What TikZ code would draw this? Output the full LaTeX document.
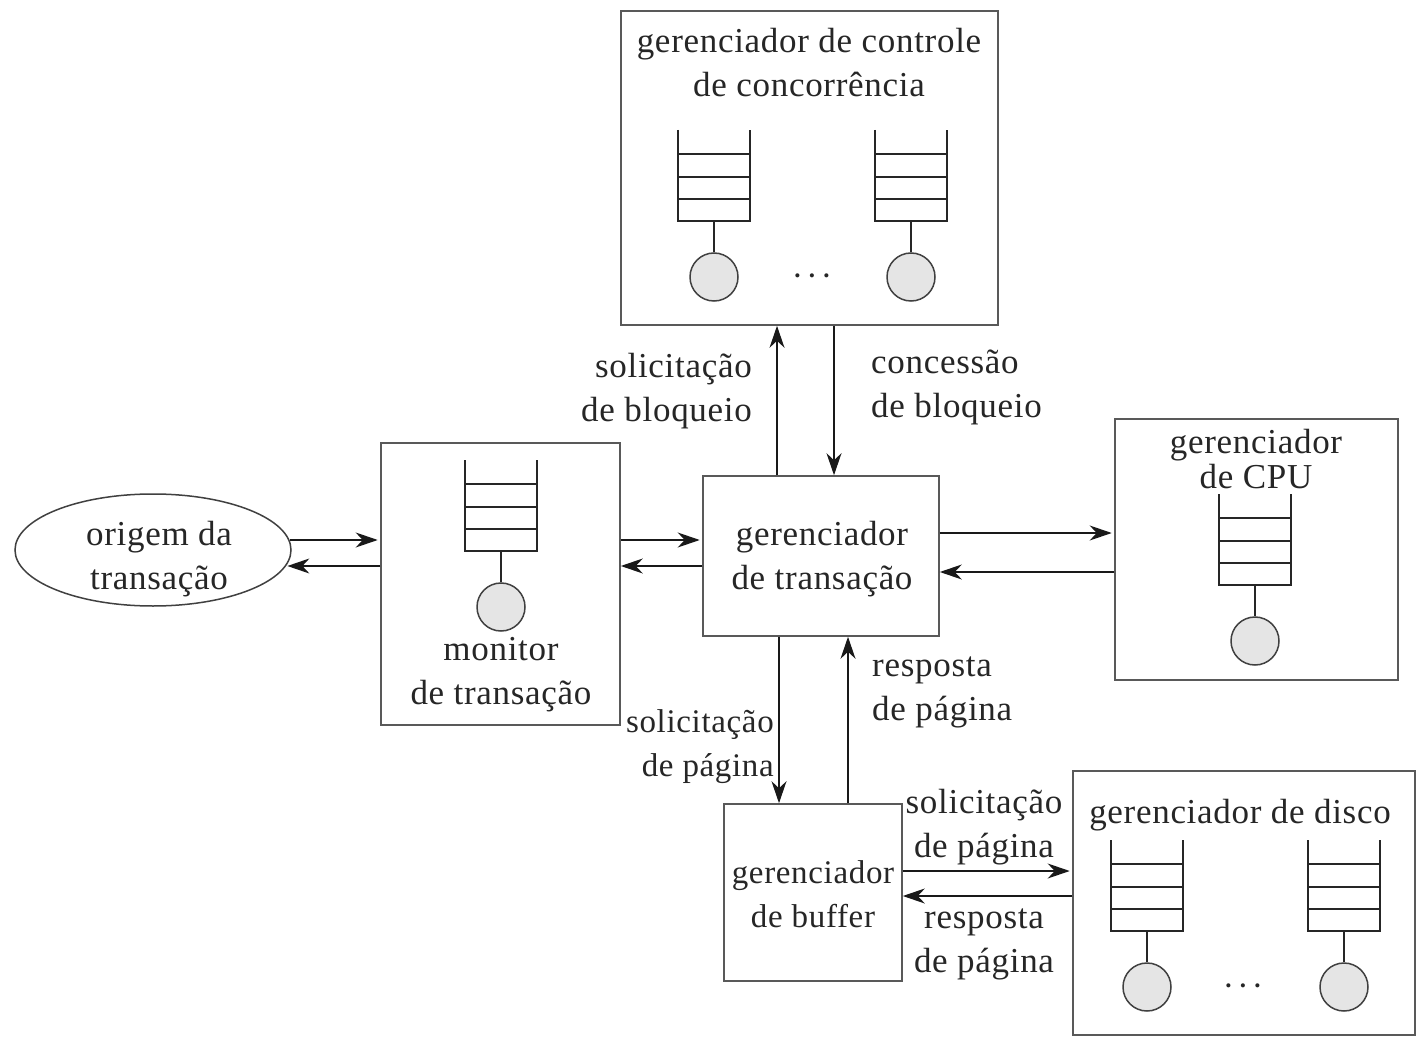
\documentclass[tikz,border=0pt]{standalone}
\usepackage{fontspec}
\setmainfont[LetterSpace=2]{Liberation Serif}
\newfontfamily\dotfont{Liberation Serif}
\usetikzlibrary{arrows.meta,shapes.geometric}
\tikzset{
  x=1pt,y=-1pt,
  box/.style={draw=black!65,line width=1.6pt,fill=white,inner sep=0pt},
  lbl/.style={font=\fontsize{35}{44}\selectfont,align=center,inner sep=0pt,text=black!85},
  lblsm/.style={lbl,font=\fontsize{33}{44}\selectfont},
  lblr/.style={lbl,align=right},
  lbll/.style={lbl,align=left},
  dotsty/.style={font=\dotfont\bfseries\fontsize{25}{30}\selectfont,inner sep=0pt,text=black!85},
  arr/.style={draw=black!90,line width=1.3pt,-{Stealth[length=22pt,width=15pt,inset=7pt]}},
  arrs/.style={arr,shorten >=2.5pt},
  qline/.style={draw=black!85,line width=1.6pt},
  server/.style={circle,draw=black!75,line width=1.5pt,fill=black!10,minimum size=48pt,inner sep=0pt},
  pics/queue/.style={code={
    \draw[qline] (0,0) -- (0,91) -- (72,91) -- (72,0);
    \draw[qline,line width=1.2pt] (0,24) -- (72,24);
    \draw[qline] (0,47) -- (72,47);
    \draw[qline] (0,69) -- (72,69);
    \node[server] (#1s) at (36,147) {};
    \coordinate (#1b) at (36,91);
    \draw[qline] (#1b) -- (#1s);
  }}
}
\begin{document}
\begin{tikzpicture}
\useasboundingbox (0,0) rectangle (1416,1040);
\fill[white] (0,0) rectangle (1416,1040);
% boxes
\node[box,minimum width=377pt,minimum height=314pt] (cc) at (809.5,168) {};
\node[box,minimum width=239pt,minimum height=282pt] (mon) at (500.5,584) {};
\node[box,minimum width=236pt,minimum height=160pt] (tm) at (821,556) {};
\node[box,minimum width=283pt,minimum height=261pt] (cpu) at (1256.5,549.5) {};
\node[box,minimum width=178pt,minimum height=177pt] (buf) at (813,892.5) {};
\node[box,minimum width=342pt,minimum height=264pt] (dsk) at (1244,903) {};
\node[draw=black!75,line width=1.5pt,fill=white,ellipse,minimum width=276pt,minimum height=112pt,inner sep=0pt] (ori) at (153,550) {};
% queues
\pic at (678,130) {queue=qa};
\pic at (875,130) {queue=qb};
\pic at (465,460) {queue=qc};
\pic at (1219,494) {queue=qd};
\pic at (1111,840) {queue=qe};
\pic at (1308,840) {queue=qf};
% connectors
\draw[arr] ([xshift=-44pt]tm.north) -- ([xshift=-44pt]tm.north |- cc.south);
\draw[arr] ([xshift=13pt]tm.north |- cc.south) -- ([xshift=13pt]tm.north);
\draw[arrs] ([yshift=10pt]ori.center -| ori.4.2) -- ([yshift=10pt]ori.center -| mon.west);
\draw[arr] ([yshift=-16pt]ori.center -| mon.west) -- ([yshift=-16pt]ori.center -| ori.-6.8);
\draw[arrs] ([yshift=44pt]mon.east) -- ([yshift=16pt]tm.west);
\draw[arr] ([yshift=-10pt]tm.west) -- ([yshift=18pt]mon.east);
\draw[arrs] ([yshift=23pt]tm.east) -- ([yshift=23pt]tm.east -| cpu.west);
\draw[arr] ([yshift=-16pt]tm.east -| cpu.west) -- ([yshift=-16pt]tm.east);
\draw[arr] ([xshift=-42pt]tm.south) -- ([xshift=-42pt]tm.south |- buf.north);
\draw[arr] ([xshift=27pt]tm.south |- buf.north) -- ([xshift=27pt]tm.south);
\draw[arrs] ([yshift=21.5pt]buf.east) -- ([yshift=21.5pt]buf.east -| dsk.west);
\draw[arr] ([yshift=-3.5pt]buf.east -| dsk.west) -- ([yshift=-3.5pt]buf.east);
% labels
\node[lbl] (t1) at (809,63) {gerenciador de controle\\de concorrência};
\node[dotsty] (d1) at (812,276) {. . .};
\node[lblr,anchor=east] (t2) at (752,391) {solicitação\\de bloqueio};
\node[lbll,anchor=west] (t3) at (871,387) {concessão\\de bloqueio};
\node[lbl] (t4) at (159,559) {origem da\\transação};
\node[lbl] (t5) at (501,675) {monitor\\de transação};
\node[lbl] (t6) at (822,559) {gerenciador\\de transação};
\node[lbl,font=\fontsize{35}{35}\selectfont] (t7) at (1256,459) {gerenciador\\de CPU};
\node[lblsm,align=right,anchor=east] (t8) at (774,747) {solicitação\\de página};
\node[lbll,anchor=west] (t9) at (872,692) {resposta\\de página};
\node[lblsm] (t10) at (813,894) {gerenciador\\de buffer};
\node[lbl] (t11) at (984,827) {solicitação\\de página};
\node[lbl] (t12) at (984,944) {resposta\\de página};
\node[lbl] (t13) at (1240,815) {gerenciador de disco};
\node[dotsty] (d2) at (1243,986) {. . .};
\end{tikzpicture}
\end{document}
